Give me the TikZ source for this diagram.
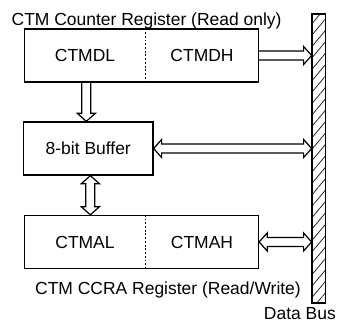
\documentclass[tikz,border=0pt]{standalone}
\usepackage{fontspec}
\setmainfont{Liberation Sans}
\usetikzlibrary{calc,patterns.meta}

% hollow (outlined) bus arrows: shaft half-width, head half-width, head length
\newcommand\arShaft{4.5}
\newcommand\arHead{9}
\newcommand\arLen{8}

% horizontal, head on the right at #2
\newcommand\harrowR[2]{\draw[hollow] ($(#1)+(0,-\arShaft)$) -- ($(#2)+(-\arLen,-\arShaft)$) -- ($(#2)+(-\arLen,-\arHead)$) -- (#2) -- ($(#2)+(-\arLen,\arHead)$) -- ($(#2)+(-\arLen,\arShaft)$) -- ($(#1)+(0,\arShaft)$);}
% horizontal, heads at both ends
\newcommand\harrowLR[2]{\draw[hollow] (#1) -- ($(#1)+(\arLen,-\arHead)$) -- ($(#1)+(\arLen,-\arShaft)$) -- ($(#2)+(-\arLen,-\arShaft)$) -- ($(#2)+(-\arLen,-\arHead)$) -- (#2) -- ($(#2)+(-\arLen,\arHead)$) -- ($(#2)+(-\arLen,\arShaft)$) -- ($(#1)+(\arLen,\arShaft)$) -- ($(#1)+(\arLen,\arHead)$) -- cycle;}
% vertical, head pointing down at #2
\newcommand\varrowD[2]{\draw[hollow] ($(#1)+(-\arShaft,0)$) -- ($(#2)+(-\arShaft,-\arLen)$) -- ($(#2)+(-\arHead,-\arLen)$) -- (#2) -- ($(#2)+(\arHead,-\arLen)$) -- ($(#2)+(\arShaft,-\arLen)$) -- ($(#1)+(\arShaft,0)$);}
% vertical, heads at both ends
\newcommand\varrowUD[2]{\draw[hollow] (#1) -- ($(#1)+(\arHead,\arLen)$) -- ($(#1)+(\arShaft,\arLen)$) -- ($(#2)+(\arShaft,-\arLen)$) -- ($(#2)+(\arHead,-\arLen)$) -- (#2) -- ($(#2)+(-\arHead,-\arLen)$) -- ($(#2)+(-\arShaft,-\arLen)$) -- ($(#1)+(-\arShaft,\arLen)$) -- ($(#1)+(-\arHead,\arLen)$) -- cycle;}

\begin{document}
\begin{tikzpicture}[x=0.75pt, y=-0.75pt, line width=1pt,
  font=\fontsize{13.1}{15.7}\selectfont,
  regbox/.style={draw, minimum width=175.5pt, minimum height=39.75pt, inner sep=0pt},
  bufbox/.style={draw, minimum width=97.1pt, minimum height=39.75pt, inner sep=0pt},
  lbl/.style={inner sep=0pt},
  hollow/.style={draw, line width=0.9pt, line join=miter},
  divider/.style={line width=1pt, dash pattern=on 1.4pt off 1.4pt},
  busbar/.style={draw, minimum width=10.1pt, minimum height=216.75pt, inner sep=0pt,
    pattern={Lines[angle=50, distance=5.5pt, line width=0.6pt]}, pattern color=black!85}]

\useasboundingbox (0,0) rectangle (337,327);

% registers, buffer and data bus
\node[regbox] (cnt) at (141.5,55.5) {};
\node[bufbox] (buf) at (88.25,148.5) {8-bit Buffer};
\node[regbox] (ccr) at (141.5,242) {};
\node[busbar] (bus) at (318.75,158.5) {};

% byte cells
\draw[divider] ($(cnt.north west)+(121.5,0)$) -- ($(cnt.south west)+(121.5,0)$);
\draw[divider] ($(ccr.north west)+(121.5,0)$) -- ($(ccr.south west)+(121.5,0)$);
\node[lbl] (cdl) at (85,55.5) {CTMDL};
\node[lbl] (cdh) at (202,55.5) {CTMDH};
\node[lbl] (cal) at (85,242) {CTMAL};
\node[lbl] (cah) at (202,242) {CTMAH};

% captions
\node[lbl, anchor=base west] (ttl) at (11,26) {CTM Counter Register (Read only)};
\node[lbl, anchor=base] (cap) at (168,295) {CTM CCRA Register (Read/Write)};
\node[lbl, anchor=base east] (dbl) at (336.5,320) {Data Bus};

% arrow end points
\coordinate (t1) at (bus.west |- cnt.east);
\coordinate (t2) at (bus.west |- buf.east);
\coordinate (t3) at (bus.west |- ccr.east);
\coordinate (v1a) at ($(cnt.south west)+(62.5,0)$);
\coordinate (v1b) at (v1a |- buf.north);
\coordinate (v2a) at ($(buf.south west)+(67.5,0)$);
\coordinate (v2b) at (v2a |- ccr.north);

% data paths
\harrowR{cnt.east}{t1}
\harrowLR{buf.east}{t2}
\harrowLR{ccr.east}{t3}
\varrowD{v1a}{v1b}
\varrowUD{v2a}{v2b}
\end{tikzpicture}
\end{document}
